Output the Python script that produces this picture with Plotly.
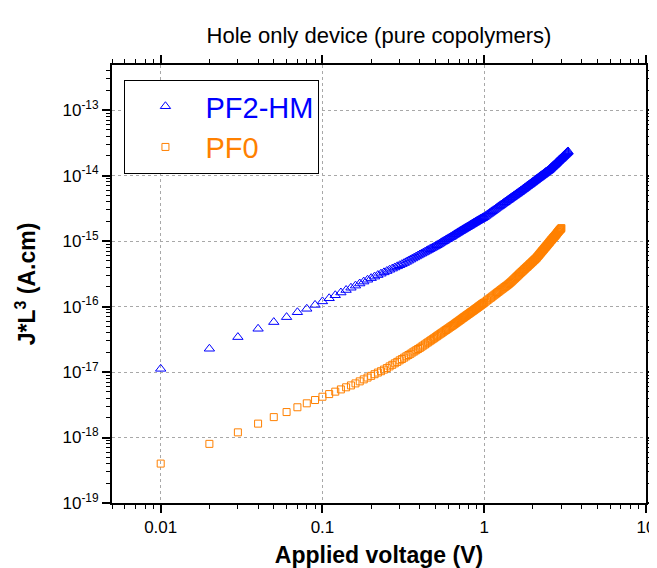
import plotly.graph_objects as go

# ---------------- data ----------------
pf2hm_v = [
    0.01, 0.02, 0.03, 0.04, 0.05, 0.06, 0.07, 0.08, 0.09, 0.10,
    0.11, 0.12, 0.13, 0.14, 0.15, 0.16, 0.17, 0.18, 0.19, 0.20,
    0.21, 0.22, 0.23, 0.24, 0.25, 0.26, 0.27, 0.28, 0.29, 0.30,
    0.31, 0.32, 0.33, 0.34, 0.35, 0.36, 0.37, 0.38, 0.39, 0.40,
    0.41, 0.42, 0.43, 0.44, 0.45, 0.46, 0.47, 0.48, 0.49, 0.50,
    0.51, 0.52, 0.53, 0.54, 0.55, 0.56, 0.57, 0.58, 0.59, 0.60,
    0.61, 0.62, 0.63, 0.64, 0.65, 0.66, 0.67, 0.68, 0.69, 0.70,
    0.71, 0.72, 0.73, 0.74, 0.75, 0.76, 0.77, 0.78, 0.79, 0.80,
    0.81, 0.82, 0.83, 0.84, 0.85, 0.86, 0.87, 0.88, 0.89, 0.90,
    0.91, 0.92, 0.93, 0.94, 0.95, 0.96, 0.97, 0.98, 0.99, 1.00,
    1.02, 1.04, 1.06, 1.08, 1.10, 1.12, 1.14, 1.16, 1.18, 1.20,
    1.22, 1.24, 1.26, 1.28, 1.30, 1.32, 1.34, 1.36, 1.38, 1.40,
    1.42, 1.44, 1.46, 1.48, 1.50, 1.52, 1.54, 1.56, 1.58, 1.60,
    1.62, 1.64, 1.66, 1.68, 1.70, 1.72, 1.74, 1.76, 1.78, 1.80,
    1.82, 1.84, 1.86, 1.88, 1.90, 1.92, 1.94, 1.96, 1.98, 2.00,
    2.02, 2.04, 2.06, 2.08, 2.10, 2.12, 2.14, 2.16, 2.18, 2.20,
    2.22, 2.24, 2.26, 2.28, 2.30, 2.32, 2.34, 2.36, 2.38, 2.40,
    2.42, 2.44, 2.46, 2.48, 2.50, 2.52, 2.54, 2.56, 2.58, 2.60,
    2.62, 2.64, 2.66, 2.68, 2.70, 2.72, 2.74, 2.76, 2.78, 2.80,
    2.82, 2.84, 2.86, 2.88, 2.90, 2.92, 2.94, 2.96, 2.98, 3.00,
    3.02, 3.04, 3.06, 3.08, 3.10, 3.12, 3.14, 3.16, 3.18, 3.20,
    3.22, 3.24, 3.26, 3.28, 3.30,
]
pf2hm_jl3 = [
    1.12e-17, 2.27e-17, 3.42e-17, 4.58e-17, 5.80e-17, 6.90e-17, 8.20e-17, 9.25e-17, 1.06e-16, 1.20e-16,
    1.34e-16, 1.49e-16, 1.64e-16, 1.79e-16, 1.94e-16, 2.09e-16, 2.25e-16, 2.41e-16, 2.57e-16, 2.72e-16,
    2.87e-16, 3.03e-16, 3.18e-16, 3.33e-16, 3.49e-16, 3.65e-16, 3.80e-16, 3.96e-16, 4.12e-16, 4.28e-16,
    4.45e-16, 4.62e-16, 4.81e-16, 5.01e-16, 5.21e-16, 5.42e-16, 5.62e-16, 5.82e-16, 6.03e-16, 6.24e-16,
    6.44e-16, 6.65e-16, 6.86e-16, 7.08e-16, 7.30e-16, 7.52e-16, 7.74e-16, 7.96e-16, 8.18e-16, 8.41e-16,
    8.65e-16, 8.90e-16, 9.16e-16, 9.43e-16, 9.70e-16, 9.95e-16, 1.02e-15, 1.05e-15, 1.07e-15, 1.10e-15,
    1.13e-15, 1.15e-15, 1.18e-15, 1.21e-15, 1.24e-15, 1.27e-15, 1.30e-15, 1.33e-15, 1.36e-15, 1.39e-15,
    1.42e-15, 1.45e-15, 1.48e-15, 1.51e-15, 1.54e-15, 1.57e-15, 1.60e-15, 1.63e-15, 1.66e-15, 1.69e-15,
    1.72e-15, 1.76e-15, 1.79e-15, 1.82e-15, 1.86e-15, 1.89e-15, 1.92e-15, 1.95e-15, 1.99e-15, 2.02e-15,
    2.05e-15, 2.08e-15, 2.11e-15, 2.15e-15, 2.18e-15, 2.21e-15, 2.24e-15, 2.27e-15, 2.31e-15, 2.34e-15,
    2.42e-15, 2.51e-15, 2.59e-15, 2.68e-15, 2.77e-15, 2.86e-15, 2.95e-15, 3.04e-15, 3.13e-15, 3.23e-15,
    3.33e-15, 3.42e-15, 3.52e-15, 3.62e-15, 3.72e-15, 3.82e-15, 3.92e-15, 4.02e-15, 4.13e-15, 4.23e-15,
    4.34e-15, 4.45e-15, 4.56e-15, 4.67e-15, 4.78e-15, 4.89e-15, 5.00e-15, 5.12e-15, 5.23e-15, 5.35e-15,
    5.47e-15, 5.59e-15, 5.71e-15, 5.84e-15, 5.96e-15, 6.09e-15, 6.22e-15, 6.35e-15, 6.48e-15, 6.62e-15,
    6.76e-15, 6.90e-15, 7.04e-15, 7.17e-15, 7.31e-15, 7.45e-15, 7.60e-15, 7.74e-15, 7.89e-15, 8.04e-15,
    8.19e-15, 8.34e-15, 8.49e-15, 8.65e-15, 8.81e-15, 8.96e-15, 9.11e-15, 9.26e-15, 9.43e-15, 9.59e-15,
    9.75e-15, 9.92e-15, 1.008e-14, 1.024e-14, 1.04e-14, 1.06e-14, 1.07e-14, 1.09e-14, 1.11e-14, 1.13e-14,
    1.15e-14, 1.16e-14, 1.18e-14, 1.19e-14, 1.21e-14, 1.23e-14, 1.26e-14, 1.28e-14, 1.31e-14, 1.33e-14,
    1.35e-14, 1.38e-14, 1.40e-14, 1.43e-14, 1.45e-14, 1.47e-14, 1.50e-14, 1.52e-14, 1.55e-14, 1.58e-14,
    1.61e-14, 1.64e-14, 1.66e-14, 1.69e-14, 1.72e-14, 1.75e-14, 1.78e-14, 1.80e-14, 1.83e-14, 1.86e-14,
    1.89e-14, 1.92e-14, 1.95e-14, 1.98e-14, 2.01e-14, 2.04e-14, 2.07e-14, 2.11e-14, 2.14e-14, 2.17e-14,
    2.20e-14, 2.23e-14, 2.27e-14, 2.30e-14, 2.34e-14,
]

pf0_v = [
    0.01, 0.02, 0.03, 0.04, 0.05, 0.06, 0.07, 0.08, 0.09, 0.10,
    0.11, 0.12, 0.13, 0.14, 0.15, 0.16, 0.17, 0.18, 0.19, 0.20,
    0.21, 0.22, 0.23, 0.24, 0.25, 0.26, 0.27, 0.28, 0.29, 0.30,
    0.31, 0.32, 0.33, 0.34, 0.35, 0.36, 0.37, 0.38, 0.39, 0.40,
    0.41, 0.42, 0.43, 0.44, 0.45, 0.46, 0.47, 0.48, 0.49, 0.50,
    0.51, 0.52, 0.53, 0.54, 0.55, 0.56, 0.57, 0.58, 0.59, 0.60,
    0.61, 0.62, 0.63, 0.64, 0.65, 0.66, 0.67, 0.68, 0.69, 0.70,
    0.71, 0.72, 0.73, 0.74, 0.75, 0.76, 0.77, 0.78, 0.79, 0.80,
    0.81, 0.82, 0.83, 0.84, 0.85, 0.86, 0.87, 0.88, 0.89, 0.90,
    0.91, 0.92, 0.93, 0.94, 0.95, 0.96, 0.97, 0.98, 0.99, 1.00,
    1.02, 1.04, 1.06, 1.08, 1.10, 1.12, 1.14, 1.16, 1.18, 1.20,
    1.22, 1.24, 1.26, 1.28, 1.30, 1.32, 1.34, 1.36, 1.38, 1.40,
    1.42, 1.44, 1.46, 1.48, 1.50, 1.52, 1.54, 1.56, 1.58, 1.60,
    1.62, 1.64, 1.66, 1.68, 1.70, 1.72, 1.74, 1.76, 1.78, 1.80,
    1.82, 1.84, 1.86, 1.88, 1.90, 1.92, 1.94, 1.96, 1.98, 2.00,
    2.02, 2.04, 2.06, 2.08, 2.10, 2.12, 2.14, 2.16, 2.18, 2.20,
    2.22, 2.24, 2.26, 2.28, 2.30, 2.32, 2.34, 2.36, 2.38, 2.40,
    2.42, 2.44, 2.46, 2.48, 2.50, 2.52, 2.54, 2.56, 2.58, 2.60,
    2.62, 2.64, 2.66, 2.68, 2.70, 2.72, 2.74, 2.76, 2.78, 2.80,
    2.82, 2.84, 2.86, 2.88, 2.90, 2.92, 2.94, 2.96, 2.98, 3.00,
]
pf0_jl3 = [
    4.00e-19, 8.00e-19, 1.20e-18, 1.63e-18, 2.05e-18, 2.45e-18, 2.90e-18, 3.33e-18, 3.74e-18, 4.20e-18,
    4.61e-18, 5.02e-18, 5.43e-18, 5.85e-18, 6.25e-18, 6.71e-18, 7.21e-18, 7.73e-18, 8.24e-18, 8.75e-18,
    9.27e-18, 9.82e-18, 1.03e-17, 1.09e-17, 1.15e-17, 1.22e-17, 1.29e-17, 1.36e-17, 1.43e-17, 1.51e-17,
    1.58e-17, 1.66e-17, 1.74e-17, 1.82e-17, 1.90e-17, 1.99e-17, 2.07e-17, 2.16e-17, 2.25e-17, 2.34e-17,
    2.44e-17, 2.54e-17, 2.64e-17, 2.75e-17, 2.85e-17, 2.96e-17, 3.07e-17, 3.18e-17, 3.29e-17, 3.41e-17,
    3.53e-17, 3.65e-17, 3.77e-17, 3.89e-17, 4.01e-17, 4.14e-17, 4.27e-17, 4.39e-17, 4.52e-17, 4.65e-17,
    4.79e-17, 4.92e-17, 5.06e-17, 5.19e-17, 5.33e-17, 5.48e-17, 5.63e-17, 5.78e-17, 5.93e-17, 6.08e-17,
    6.24e-17, 6.40e-17, 6.57e-17, 6.73e-17, 6.89e-17, 7.05e-17, 7.22e-17, 7.38e-17, 7.55e-17, 7.71e-17,
    7.89e-17, 8.06e-17, 8.24e-17, 8.41e-17, 8.59e-17, 8.77e-17, 8.96e-17, 9.14e-17, 9.33e-17, 9.51e-17,
    9.71e-17, 9.91e-17, 1.01e-16, 1.03e-16, 1.05e-16, 1.07e-16, 1.09e-16, 1.11e-16, 1.13e-16, 1.15e-16,
    1.19e-16, 1.24e-16, 1.28e-16, 1.33e-16, 1.37e-16, 1.42e-16, 1.47e-16, 1.52e-16, 1.57e-16, 1.62e-16,
    1.67e-16, 1.72e-16, 1.78e-16, 1.83e-16, 1.88e-16, 1.94e-16, 1.99e-16, 2.05e-16, 2.10e-16, 2.16e-16,
    2.22e-16, 2.29e-16, 2.36e-16, 2.43e-16, 2.51e-16, 2.59e-16, 2.67e-16, 2.75e-16, 2.84e-16, 2.92e-16,
    3.01e-16, 3.10e-16, 3.19e-16, 3.28e-16, 3.37e-16, 3.46e-16, 3.55e-16, 3.65e-16, 3.75e-16, 3.85e-16,
    3.95e-16, 4.04e-16, 4.14e-16, 4.25e-16, 4.36e-16, 4.46e-16, 4.57e-16, 4.68e-16, 4.79e-16, 4.91e-16,
    5.03e-16, 5.14e-16, 5.26e-16, 5.38e-16, 5.50e-16, 5.66e-16, 5.82e-16, 5.98e-16, 6.15e-16, 6.31e-16,
    6.49e-16, 6.67e-16, 6.85e-16, 7.03e-16, 7.21e-16, 7.40e-16, 7.59e-16, 7.79e-16, 7.98e-16, 8.18e-16,
    8.38e-16, 8.59e-16, 8.80e-16, 9.01e-16, 9.23e-16, 9.45e-16, 9.68e-16, 9.91e-16, 1.02e-15, 1.04e-15,
    1.06e-15, 1.09e-15, 1.11e-15, 1.14e-15, 1.16e-15, 1.18e-15, 1.21e-15, 1.23e-15, 1.26e-15, 1.29e-15,
    1.32e-15, 1.35e-15, 1.38e-15, 1.41e-15, 1.44e-15, 1.47e-15, 1.50e-15, 1.52e-15, 1.55e-15, 1.58e-15,
]

x_tickvals = [0.01, 0.1, 1, 10]
x_ticktext = ["0.01", "0.1", "1", "10"]
y_tickvals = [1e-19, 1e-18, 1e-17, 1e-16, 1e-15, 1e-14, 1e-13]
y_ticktext = ["10<sup>-19</sup>", "10<sup>-18</sup>", "10<sup>-17</sup>", "10<sup>-16</sup>",
              "10<sup>-15</sup>", "10<sup>-14</sup>", "10<sup>-13</sup>"]

# minor (log) tick positions 2..9 inside each decade
x_minor = [m * 10.0 ** e for e in range(-3, 1) for m in range(2, 10)]
y_minor = [m * 10.0 ** e for e in range(-19, -12) for m in range(2, 10)]

BLUE = "#0000FF"
ORANGE = "#FF8000"
FONT = "Liberation Sans, Arial, Helvetica, sans-serif"

fig = go.Figure()
fig.add_trace(go.Scatter(
    x=pf2hm_v, y=pf2hm_jl3, mode="markers",
    name='<span style="color:#0000FF">PF2-HM</span>',
    marker=dict(symbol="triangle-up-open", size=9, color=BLUE, line=dict(width=1, color=BLUE)),
))
fig.add_trace(go.Scatter(
    x=pf0_v, y=pf0_jl3, mode="markers",
    name='<span style="color:#FF8000">PF0</span>',
    marker=dict(symbol="square-open", size=7, color=ORANGE, line=dict(width=1, color=ORANGE)),
))

xr = [-2.30103, 1.0]
yr = [-19.0, -12.31]

grid = dict(showgrid=True, gridcolor="#A8A8A8", griddash="3px,3px", gridwidth=1)

fig.update_layout(
    width=657, height=568,
    margin=dict(l=104, r=9, t=57, b=73),
    paper_bgcolor="white", plot_bgcolor="white",
    font=dict(family=FONT, color="black", size=17),
    title=dict(text="Hole only device (pure copolymers)", x=0.5, xanchor="center", xref="paper",
               y=0.952, yanchor="middle", yref="container",
               font=dict(size=22, color="black", family=FONT)),
    showlegend=True,
    legend=dict(x=0.0233, y=0.966, xanchor="left", yanchor="top",
                bgcolor="white", bordercolor="black", borderwidth=1,
                font=dict(size=29, family=FONT), itemwidth=70, tracegroupgap=0),
    xaxis=dict(type="log", range=xr, tickvals=x_tickvals, ticktext=x_ticktext,
               showline=True, linecolor="black", linewidth=2, mirror="ticks",
               ticks="outside", ticklen=8, tickwidth=1.5, tickcolor="black",
               tickfont=dict(size=17),
               minor=dict(tickmode="array", tickvals=x_minor, ticks="outside", ticklen=4,
                          tickwidth=1, tickcolor="black", showgrid=False),
               title=dict(text="<b>Applied voltage (V)</b>", font=dict(size=23, family=FONT), standoff=10),
               zeroline=False, **grid),
    yaxis=dict(type="log", range=yr, tickvals=y_tickvals, ticktext=y_ticktext,
               showline=True, linecolor="black", linewidth=2, mirror="ticks",
               ticks="outside", ticklen=8, tickwidth=1.5, tickcolor="black",
               tickfont=dict(size=17),
               minor=dict(tickmode="array", tickvals=y_minor, ticks="outside", ticklen=4,
                          tickwidth=1, tickcolor="black", showgrid=False),
               title=dict(text="<b>J*L<sup>3</sup> (A.cm)</b>", font=dict(size=23, family=FONT), standoff=20),
               zeroline=False, **grid),
)

fig.write_html("out.html")
